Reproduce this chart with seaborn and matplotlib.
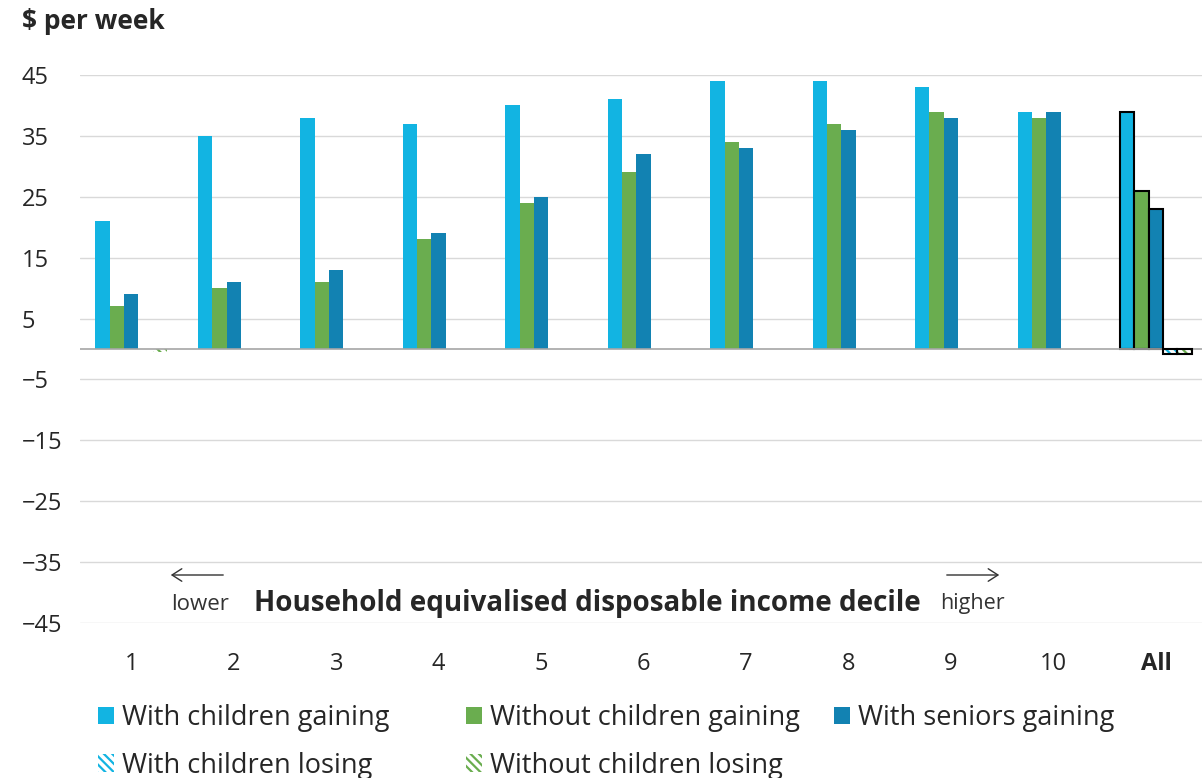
import matplotlib
matplotlib.use('Agg')
import matplotlib.pyplot as plt
from matplotlib.patches import Patch, Rectangle, FancyArrowPatch
import numpy as np
import pandas as pd
import seaborn as sns

GROUPS = ['1', '2', '3', '4', '5', '6', '7', '8', '9', '10', 'All']
SERIES = [
    'With children gaining',
    'Without children gaining',
    'With seniors gaining',
    'With children losing',
    'Without children losing',
]
with_children_gaining = [21, 35, 38, 37, 40, 41, 44, 44, 43, 39, 39]
without_children_gaining = [7, 10, 11, 18, 24, 29, 34, 37, 39, 38, 26]
with_seniors_gaining = [9, 11, 13, 19, 25, 32, 33, 36, 38, 39, 23]
with_children_losing = [None, None, None, None, None, None, None, None, None, None, -0.9]
without_children_losing = [-0.5, None, None, None, None, None, None, None, None, None, -0.9]

COLORS = ['#12B4E2', '#6AAD4F', '#1282B2', '#12B4E2', '#6AAD4F']
FONT = ['Open Sans', 'DejaVu Sans']

rows = []
for name, vals in zip(SERIES, [with_children_gaining, without_children_gaining, with_seniors_gaining,
                               with_children_losing, without_children_losing]):
    for g, v in zip(GROUPS, vals):
        if v is not None:
            rows.append(dict(group=g, series=name, value=v))
df = pd.DataFrame(rows)

sns.set_style('white')
plt.rcParams['font.family'] = FONT
plt.rcParams['hatch.linewidth'] = 1.6

fig = plt.figure(figsize=(12.02, 7.78), dpi=100)
ax = fig.add_axes([0.0666, 0.1992, 0.9334, 0.7044])

sns.barplot(
    data=df, x='group', y='value', hue='series',
    order=GROUPS, hue_order=SERIES, palette=COLORS,
    width=0.7, errorbar=None, ax=ax, legend=False, saturation=1,
)

# style bars: outlines on "All", hatching for losing series
for i, container in enumerate(ax.containers):
    for bar in container:
        is_all = bar.get_x() > 9.5
        if i >= 3:
            bar.set_facecolor('white')
            bar.set_edgecolor(COLORS[i])
            bar.set_hatch('\\\\\\\\')
            bar.set_linewidth(0)
            if is_all:
                ax.add_patch(Rectangle(bar.get_xy(), bar.get_width(), bar.get_height(),
                                       fill=False, edgecolor='black', linewidth=1.5, zorder=3))
        elif is_all:
            bar.set_edgecolor('black')
            bar.set_linewidth(1.5)
        else:
            bar.set_linewidth(0)

ax.set_ylim(-45, 45)
ax.set_xlim(-0.5, 10.45)
ax.set_yticks(np.arange(-45, 46, 10))
ax.yaxis.grid(True, color='#d9d9d9', linewidth=1)
ax.set_axisbelow(True)
ax.axhline(0, color='#a6a6a6', linewidth=1.2, zorder=1)
for s in ax.spines.values():
    s.set_visible(False)
ax.tick_params(axis='y', length=0, pad=42, labelsize=17)
for lab in ax.get_yticklabels():
    lab.set_horizontalalignment('left')
ax.tick_params(axis='x', length=0, pad=21, labelsize=17)
ax.get_xticklabels()[-1].set_fontweight('bold')
ax.set_xlabel('')
ax.set_ylabel('')

fig.text(0.018, 0.972, '$ per week', fontsize=19, fontweight='bold', va='center', ha='left')

# axis title sits inside the plot area
fig.text(587 / 1202, 1 - 603 / 778, 'Household equivalised disposable income decile',
         fontsize=20, fontweight='bold', ha='center', va='center')
fig.text(200 / 1202, 1 - 604 / 778, 'lower', fontsize=16, ha='center', va='center', color='#333333')
fig.text(972 / 1202, 1 - 604 / 778, 'higher', fontsize=15.5, ha='center', va='center', color='#333333')
fig.add_artist(FancyArrowPatch(
    (226 / 1202, 1 - 575 / 778), (168 / 1202, 1 - 575 / 778), transform=fig.transFigure,
    arrowstyle='->,head_length=7,head_width=4.5', color='#333333', linewidth=1))
fig.add_artist(FancyArrowPatch(
    (944 / 1202, 1 - 575 / 778), (1002 / 1202, 1 - 575 / 778), transform=fig.transFigure,
    arrowstyle='->,head_length=7,head_width=4.5', color='#333333', linewidth=1))

handles = []
for i, name in enumerate(SERIES):
    if i < 3:
        handles.append(Patch(facecolor=COLORS[i], edgecolor='none', label=name))
    else:
        handles.append(Patch(facecolor='white', edgecolor=COLORS[i], hatch='\\\\\\\\',
                             linewidth=0, label=name))

# the legend columns are not evenly spaced, so one legend per column
columns = [([0, 3], 98), ([1, 4], 466), ([2], 834)]
for idx, xpix in columns:
    leg = fig.legend([handles[k] for k in idx], [SERIES[k] for k in idx],
                     loc='upper left', bbox_to_anchor=(xpix / 1202, 1 - 704 / 778),
                     frameon=False, fontsize=19.5, handlelength=0.6, handleheight=0.6,
                     handletextpad=0.3, labelspacing=0.72, borderpad=0, borderaxespad=0)

fig.savefig('out.png', dpi=100)
